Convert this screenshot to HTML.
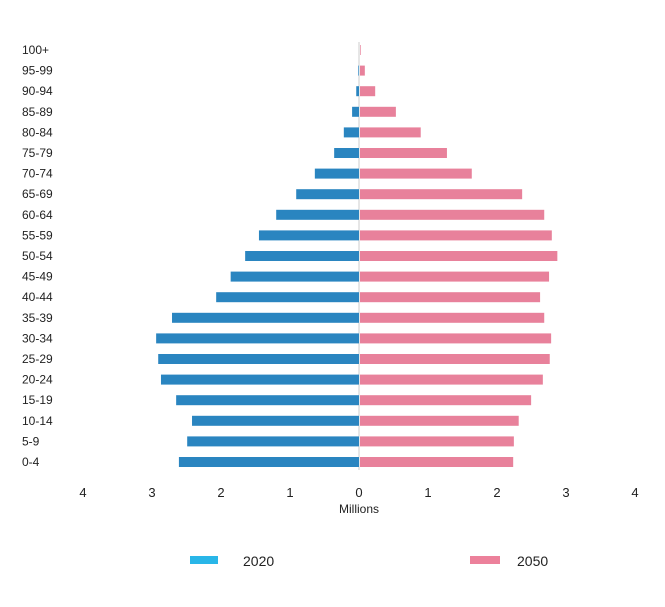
<!DOCTYPE html>
<html><head><meta charset="utf-8"><style>
body{margin:0;background:#fff;font-family:"Liberation Sans",sans-serif;}
svg text{font-family:"Liberation Sans",sans-serif;fill:#222;}
</style></head><body>
<svg id="chart" width="665" height="602" viewBox="0 0 665 602" xmlns="http://www.w3.org/2000/svg">
<line x1="359" y1="42" x2="359" y2="470" stroke="#ccc" stroke-width="1"/>
<g id="bars"></g>
<g id="ylabels"></g>
<g id="xticks"></g>
<text x="359" y="513" font-size="12" text-anchor="middle">Millions</text>
<g>
<rect x="190" y="556" width="28" height="8" fill="#29b6e8"/>
<text x="243" y="566" font-size="14">2020</text>
<rect x="470" y="556" width="30" height="8" fill="#ec819b"/>
<text x="517" y="566" font-size="14">2050</text>
</g>
</svg>
<script>
const categories=["100+","95-99","90-94","85-89","80-84","75-79","70-74","65-69","60-64","55-59","50-54","45-49","40-44","35-39","30-34","25-29","20-24","15-19","10-14","5-9","0-4"];
const values2020=[0,0.01,0.04,0.10,0.22,0.36,0.64,0.91,1.20,1.45,1.65,1.86,2.07,2.71,2.94,2.91,2.87,2.65,2.42,2.49,2.61];
const values2050=[0.01,0.07,0.22,0.52,0.88,1.26,1.62,2.35,2.67,2.78,2.86,2.74,2.61,2.67,2.77,2.75,2.65,2.48,2.30,2.23,2.22];
const tickValues=[-4,-3,-2,-1,0,1,2,3,4];
const tickLabels=["4","3","2","1","0","1","2","3","4"];
const NS="http://www.w3.org/2000/svg";
const x0=359,unit=69;
function xScale(v){return x0+v*unit;}
function yScale(i){return 50+i*(412/(categories.length-1));}
const bars=document.getElementById('bars'),yl=document.getElementById('ylabels'),xt=document.getElementById('xticks');
categories.forEach((c,i)=>{
 const y=yScale(i);
 const t=document.createElementNS(NS,'text');
 
 
 t.setAttribute('x',22);t.setAttribute('y',y+4);t.setAttribute('font-size','12');
 t.textContent=c;yl.appendChild(t);
 const a=document.createElementNS(NS,'rect');
 
 
 const xl=xScale(-values2020[i]);
 a.setAttribute('x',xl);a.setAttribute('y',y-5);a.setAttribute('width',x0-xl);a.setAttribute('height',10);a.setAttribute('fill','#2a85c0');
 bars.appendChild(a);
 const b=document.createElementNS(NS,'rect');
 
 
 b.setAttribute('x',x0+1);b.setAttribute('y',y-5);b.setAttribute('width',xScale(values2050[i])-x0);b.setAttribute('height',10);b.setAttribute('fill','#e8819b');
 bars.appendChild(b);
});
tickValues.forEach((v,i)=>{
 const t=document.createElementNS(NS,'text');
 
 
 t.setAttribute('x',xScale(v));t.setAttribute('y',497);t.setAttribute('font-size','13');t.setAttribute('text-anchor','middle');
 t.textContent=tickLabels[i];xt.appendChild(t);
});
</script>
</body></html>
